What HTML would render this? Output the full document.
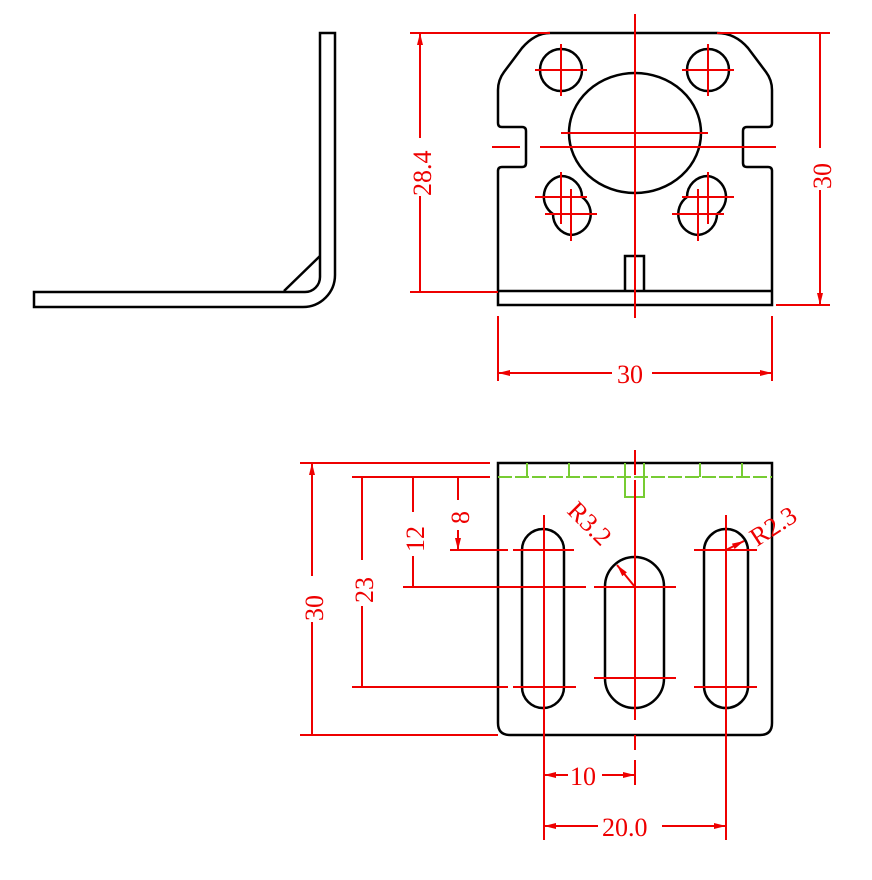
<!DOCTYPE html>
<html><head><meta charset="utf-8"><style>body{margin:0;background:#fff}svg{display:block}text{font-family:"Liberation Serif",serif;fill:#e00;font-size:26px}</style></head><body>
<svg width="872" height="880" viewBox="0 0 872 880" xmlns="http://www.w3.org/2000/svg">
<defs><marker id="a" viewBox="0 0 12 6" refX="12" refY="3" markerWidth="12" markerHeight="6" orient="auto-start-reverse" markerUnits="userSpaceOnUse"><path d="M0,0L12,3L0,6z" fill="#e00"/></marker></defs>
<g fill="none" stroke="#000" stroke-width="2.5">
<path d="M320,33H335V275A32,32 0 0 1 303,307H34V292H305A15,15 0 0 0 320,277Z"/>
<path d="M284,291L320,256"/>
<path d="M550,33H717Q735,33 748,48L766,72Q772,80 772,90V123Q772,127 768,127H747Q743,127 743,131V163Q743,167 747,167H768Q772,167 772,171V305H498V171Q498,167 502,167H522Q526,167 526,163V131Q526,127 522,127H502Q498,127 498,123V90Q498,80 504,72L522,48Q535,33 550,33Z"/>
<path d="M498,291H772"/>
<path d="M625,291V256H644V291"/>
<ellipse cx="635" cy="133" rx="66" ry="60"/>
<circle cx="561" cy="70" r="21"/><circle cx="708" cy="70" r="21"/>
<path d="M553,214A21,21 0 0 1 561,176A21,21 0 0 1 582,197A21,21 0 0 1 571,235A21,21 0 0 1 553,214"/>
<path d="M717,214A21,21 0 0 0 708,176A21,21 0 0 0 687,197A21,21 0 0 0 698,235A21,21 0 0 0 717,214"/>
<path d="M498,463H772V723Q772,735 760,735H510Q498,735 498,723Z"/>
<rect x="522" y="529" width="42" height="179" rx="21"/>
<rect x="605" y="557" width="59" height="151" rx="29.5"/>
<rect x="704" y="529" width="44" height="179" rx="22"/>
</g>
<g fill="none" stroke="#7c3" stroke-width="2">
<path d="M498,477H772" stroke-dasharray="14,3"/>
<path d="M527,463V477M569,463V477M700,463V477M742,463V477"/>
<path d="M625,463V497H644V463"/>
</g>
<g fill="none" stroke="#e00" stroke-width="2">
<path d="M635,14V318"/>
<path d="M561,133H708"/>
<path d="M492,147H520M540,147H776"/>
<path d="M561,44V96M535,70H587M708,44V96M682,70H734"/>
<path d="M561,172V224M535,197H587M571,189V241M545,214H597"/>
<path d="M708,172V224M682,197H734M698,189V241M672,214H724"/>
<path d="M410,33H550M410,292H498M717,33H830M776,305H830"/>
<path d="M420,33V292M820,33V305" marker-start="url(#a)" marker-end="url(#a)"/>
<path d="M498,316V381M772,316V381"/>
<path d="M498,373H615M650,373H772" />
<path d="M498,373H520" marker-start="url(#a)"/><path d="M750,373H772" marker-end="url(#a)"/>
<path d="M635,450V475M635,480V720M635,735V750"/>
<path d="M544,515V840M726,515V840"/>
<path d="M490,550H508M513,550H574M694,550H757"/>
<path d="M440,587H586M594,587H676"/>
<path d="M594,678H676"/>
<path d="M490,687H508M513,687H576M694,687H757"/>
<path d="M300,463H490M352,477H490M450,550H490M403,587H490M352,687H490M300,735H498"/>
<path d="M312,463V735M362,477V687M413,477V587M458,477V550" marker-start="url(#a)" marker-end="url(#a)"/>
<path d="M635,760V785"/>
<path d="M544,775H568" marker-start="url(#a)"/><path d="M602,775H635" marker-end="url(#a)"/>
<path d="M544,826H598" marker-start="url(#a)"/><path d="M662,826H726" marker-end="url(#a)"/>
<path d="M635,587L617,565" marker-end="url(#a)"/>
<path d="M726,550L744,541" marker-end="url(#a)"/>
</g>
<g fill="#fff" stroke="none">
<rect x="408" y="138" width="24" height="58"/><rect x="808" y="148" width="24" height="42"/><rect x="612" y="360" width="40" height="24"/>
<rect x="300" y="576" width="24" height="46"/><rect x="350" y="560" width="24" height="46"/><rect x="401" y="512" width="24" height="44"/><rect x="446" y="500" width="24" height="30"/>
</g>
<text transform="translate(431,196) rotate(-90)">28.4</text>
<text transform="translate(831,189) rotate(-90)">30</text>
<text x="617" y="383">30</text>
<text transform="translate(323,621) rotate(-90)">30</text>
<text transform="translate(373,603) rotate(-90)">23</text>
<text transform="translate(424,552) rotate(-90)">12</text>
<text transform="translate(469,524) rotate(-90)">8</text>
<text x="570" y="785">10</text>
<text x="602" y="836">20.0</text>
<text transform="translate(566,512) rotate(45)">R3.2</text>
<text transform="translate(757,547) rotate(-33)">R2.3</text>
</svg>
</body></html>
